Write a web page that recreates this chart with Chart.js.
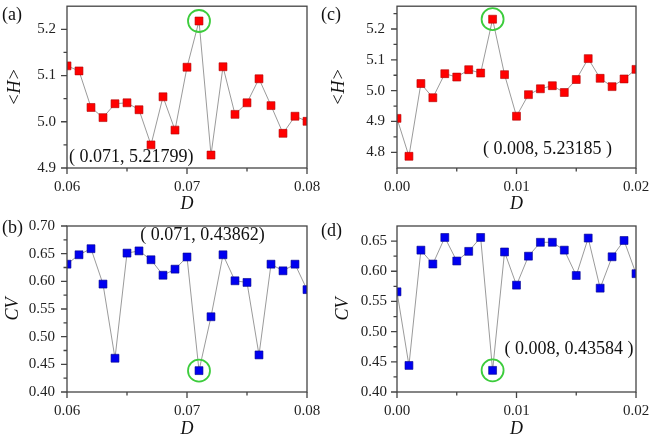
<!DOCTYPE html>
<html>
<head>
<meta charset="utf-8">
<script src="https://cdn.jsdelivr.net/npm/chart.js@4/dist/chart.umd.min.js"></script>
<style>
  html, body { margin: 0; padding: 0; background: #fff; overflow: hidden; }
  #wrap { position: relative; width: 650px; height: 435px; }
  canvas { position: absolute; }
</style>
</head>
<body>
<div id="wrap">
  <canvas id="ca" width="330" height="217" style="left:0;top:0"></canvas>
  <canvas id="cb" width="330" height="225" style="left:0;top:217px"></canvas>
  <canvas id="cc" width="332" height="217" style="left:318px;top:0"></canvas>
  <canvas id="cd" width="332" height="225" style="left:318px;top:217px"></canvas>
</div>
<script>
// D values
const dRight = [0.060, 0.061, 0.062, 0.063, 0.064, 0.065, 0.066, 0.067, 0.068, 0.069, 0.070,
                0.071, 0.072, 0.073, 0.074, 0.075, 0.076, 0.077, 0.078, 0.079, 0.080];
const dLeft = [0.000, 0.001, 0.002, 0.003, 0.004, 0.005, 0.006, 0.007, 0.008, 0.009, 0.010,
               0.011, 0.012, 0.013, 0.014, 0.015, 0.016, 0.017, 0.018, 0.019, 0.020];

// <H> and CV
const hA = [5.121, 5.110, 5.031, 5.009, 5.039, 5.041, 5.026, 4.950, 5.054, 4.982, 5.118,
            5.21799, 4.928, 5.119, 5.016, 5.041, 5.093, 5.035, 4.975, 5.012, 5.001];
const cvB = [0.631, 0.648, 0.659, 0.595, 0.461, 0.651, 0.655, 0.639, 0.611, 0.622, 0.644,
             0.43862, 0.536, 0.648, 0.601, 0.598, 0.467, 0.631, 0.619, 0.631, 0.585];
const hC = [4.910, 4.787, 5.023, 4.977, 5.055, 5.044, 5.068, 5.057, 5.23185, 5.052, 4.917,
            4.987, 5.006, 5.016, 4.994, 5.036, 5.104, 5.040, 5.013, 5.038, 5.069];
const cvD = [0.566, 0.444, 0.635, 0.612, 0.656, 0.617, 0.633, 0.656, 0.43584, 0.632, 0.577,
             0.625, 0.648, 0.648, 0.635, 0.593, 0.655, 0.572, 0.624, 0.651, 0.596];

// tick values
const xTicksRight = [0.06, 0.07, 0.08];
const xMinorRight = [0.065, 0.075];
const xTicksLeft = [0.00, 0.01, 0.02];
const xMinorLeft = [0.005, 0.015];
const yTicksA = [4.9, 5.0, 5.1, 5.2];
const yMinorA = [4.95, 5.05, 5.15];
const yTicksB = [0.40, 0.45, 0.50, 0.55, 0.60, 0.65, 0.70];
const yMinorB = [0.425, 0.475, 0.525, 0.575, 0.625, 0.675];
const yTicksC = [4.8, 4.9, 5.0, 5.1, 5.2];
const yMinorC = [4.85, 4.95, 5.05, 5.15, 5.25];
const yTicksD = [0.40, 0.45, 0.50, 0.55, 0.60, 0.65];
const yMinorD = [0.425, 0.475, 0.525, 0.575, 0.625];

const FONT = "'Liberation Serif', 'DejaVu Serif', serif";
const RED = "#ff0000";
const BLUE = "#0000f0";

// frame, outward ticks, panel letter, highlight circle and note
const decorations = {
  id: "decorations",
  afterDatasetsDraw(chart, args, opts) {
    const { ctx, chartArea: a, scales: { x, y } } = chart;
    ctx.save();
    ctx.strokeStyle = "#444";
    ctx.lineWidth = 1.3;
    ctx.strokeRect(a.left, a.top, a.right - a.left, a.bottom - a.top);

    ctx.beginPath();
    opts.xMajor.forEach(v => { const px = x.getPixelForValue(v); ctx.moveTo(px, a.bottom); ctx.lineTo(px, a.bottom + 6); });
    opts.xMinor.forEach(v => { const px = x.getPixelForValue(v); ctx.moveTo(px, a.bottom); ctx.lineTo(px, a.bottom + 3.5); });
    opts.yMajor.forEach(v => { const py = y.getPixelForValue(v); ctx.moveTo(a.left, py); ctx.lineTo(a.left - 6, py); });
    opts.yMinor.forEach(v => { const py = y.getPixelForValue(v); ctx.moveTo(a.left, py); ctx.lineTo(a.left - 3.5, py); });
    ctx.stroke();

    // highlighted point
    const hx = x.getPixelForValue(opts.mark[0]);
    const hy = y.getPixelForValue(opts.mark[1]);
    ctx.strokeStyle = "#3ccc3c";
    ctx.lineWidth = 1.8;
    ctx.beginPath();
    ctx.arc(hx, hy, 11, 0, Math.PI * 2);
    ctx.stroke();

    ctx.fillStyle = "#111";
    ctx.font = "18px " + FONT;
    ctx.textAlign = "left";
    ctx.textBaseline = "middle";
    ctx.fillText(opts.note, x.getPixelForValue(opts.notePos[0]), y.getPixelForValue(opts.notePos[1]));
    ctx.fillText(opts.letter, opts.letterPos[0], opts.letterPos[1]);
    ctx.restore();
  }
};

function panel(id, cfg) {
  new Chart(document.getElementById(id), {
    type: "scatter",
    data: {
      datasets: [{
        data: cfg.xs.map((v, i) => ({ x: v, y: cfg.ys[i] })),
        showLine: true,
        borderColor: "#8f8f8f",
        borderWidth: 0.9,
        pointStyle: "rect",
        pointRadius: 5.6,
        pointHoverRadius: 5.6,
        pointBackgroundColor: cfg.color,
        pointBorderColor: cfg.edge,
        pointBorderWidth: 0.6,
        clip: 0
      }]
    },
    options: {
      responsive: false,
      animation: false,
      events: [],
      layout: { padding: { left: 0, right: cfg.padRight, top: cfg.padTop, bottom: 0 } },
      plugins: {
        legend: { display: false },
        tooltip: { enabled: false },
        decorations: cfg.deco
      },
      scales: {
        x: {
          type: "linear",
          min: cfg.xMin, max: cfg.xMax,
          grid: { display: false, drawTicks: false },
          border: { display: false },
          afterBuildTicks: s => { s.ticks = cfg.deco.xMajor.map(v => ({ value: v })); },
          afterFit: s => { s.height = cfg.xHeight; s.paddingLeft = 0; s.paddingRight = 0; },
          ticks: {
            padding: 10,
            color: "#222",
            font: { family: FONT, size: 15 },
            maxRotation: 0,
            callback: v => v.toFixed(2)
          },
          title: {
            display: true,
            text: "D",
            color: "#111",
            font: { family: FONT, size: 18, style: "italic" },
            padding: { top: 0, bottom: 2 }
          }
        },
        y: {
          type: "linear",
          min: cfg.yMin, max: cfg.yMax,
          grid: { display: false, drawTicks: false },
          border: { display: false },
          afterBuildTicks: s => { s.ticks = cfg.deco.yMajor.map(v => ({ value: v })); },
          afterFit: s => { s.width = cfg.yWidth; s.paddingTop = 0; s.paddingBottom = 0; },
          ticks: {
            padding: cfg.yPad,
            color: "#222",
            font: { family: FONT, size: 15 },
            callback: v => v.toFixed(cfg.yDigits)
          },
          title: {
            display: true,
            text: cfg.yTitle,
            color: "#111",
            font: { family: FONT, size: 18, style: "italic" },
            padding: { top: cfg.yTitlePad, bottom: 0 }
          }
        }
      }
    },
    plugins: [decorations]
  });
}

panel("ca", {
  xs: dRight, ys: hA, color: RED, edge: "#b00000",
  xMin: 0.06, xMax: 0.08, yMin: 4.9, yMax: 5.25,
  yWidth: 67, xHeight: 49, padRight: 23, padTop: 3, yPad: 11, yDigits: 1,
  yTitle: "<H>", yTitlePad: 4,
  deco: { xMajor: xTicksRight, xMinor: xMinorRight, yMajor: yTicksA, yMinor: yMinorA,
          mark: [0.071, 5.21799], note: "( 0.071, 5.21799)", notePos: [0.06017, 4.923],
          letter: "(a)", letterPos: [2, 15] }
});

panel("cb", {
  xs: dRight, ys: cvB, color: BLUE, edge: "#00008a",
  xMin: 0.06, xMax: 0.08, yMin: 0.40, yMax: 0.70,
  yWidth: 67, xHeight: 50, padRight: 23, padTop: 9, yPad: 12, yDigits: 2,
  yTitle: "CV", yTitlePad: 2,
  deco: { xMajor: xTicksRight, xMinor: xMinorRight, yMajor: yTicksB, yMinor: yMinorB,
          mark: [0.071, 0.43862], note: "( 0.071, 0.43862)", notePos: [0.0661, 0.684],
          letter: "(b)", letterPos: [2, 11] }
});

panel("cc", {
  xs: dLeft, ys: hC, color: RED, edge: "#b00000",
  xMin: 0.0, xMax: 0.02, yMin: 4.749, yMax: 5.274,
  yWidth: 79, xHeight: 49, padRight: 14, padTop: 3, yPad: 12, yDigits: 1,
  yTitle: "<H>", yTitlePad: 10,
  deco: { xMajor: xTicksLeft, xMinor: xMinorLeft, yMajor: yTicksC, yMinor: yMinorC,
          mark: [0.008, 5.23185], note: "( 0.008, 5.23185 )", notePos: [0.0072, 4.809],
          letter: "(c)", letterPos: [3, 15] }
});

panel("cd", {
  xs: dLeft, ys: cvD, color: BLUE, edge: "#00008a",
  xMin: 0.0, xMax: 0.02, yMin: 0.40, yMax: 0.675,
  yWidth: 79, xHeight: 50, padRight: 14, padTop: 9, yPad: 10, yDigits: 2,
  yTitle: "CV", yTitlePad: 14,
  deco: { xMajor: xTicksLeft, xMinor: xMinorLeft, yMajor: yTicksD, yMinor: yMinorD,
          mark: [0.008, 0.43584], note: "( 0.008, 0.43584 )", notePos: [0.0090, 0.471],
          letter: "(d)", letterPos: [3, 14] }
});
</script>
</body>
</html>
